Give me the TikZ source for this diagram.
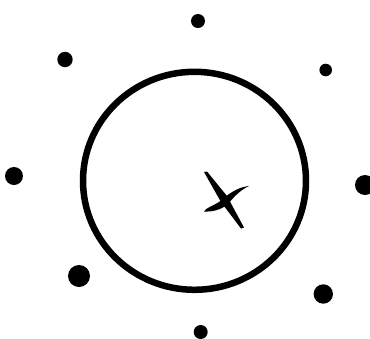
\documentclass[tikz,border=0pt]{standalone}
\begin{document}
\begin{tikzpicture}[x=1pt, y=-1pt, thick]
        \useasboundingbox (0,0) rectangle (370,338);
        % the ring
        \draw[line width=6.5pt] (194.5,180.8) ellipse (111.5 and 109);
        % the points round it
        \fill (198,21) circle (7);
        \fill (65,59.5) circle (7.7);
        \fill (325.7,70) circle (6.3);
        \fill (14,176) circle (9);
        \fill (365,185) circle (10);
        \fill (79,276) circle (11);
        \fill (323.3,294) circle (9.7);
        \fill (200.7,332) circle (7);
        % the star inside
        \fill (204,172) -- (207,171.5) -- (227,196) -- (244,227.5) -- (241,228.5) -- (221,202) -- cycle;
        \fill (249,186) .. controls (240,190) and (233,198) .. (228,204)
            .. controls (221,210) and (212,212) .. (204,211.5)
            .. controls (207,207) and (213,206) .. (219,202)
            .. controls (228,194) and (238,187) .. cycle;
    \end{tikzpicture}
\end{document}
